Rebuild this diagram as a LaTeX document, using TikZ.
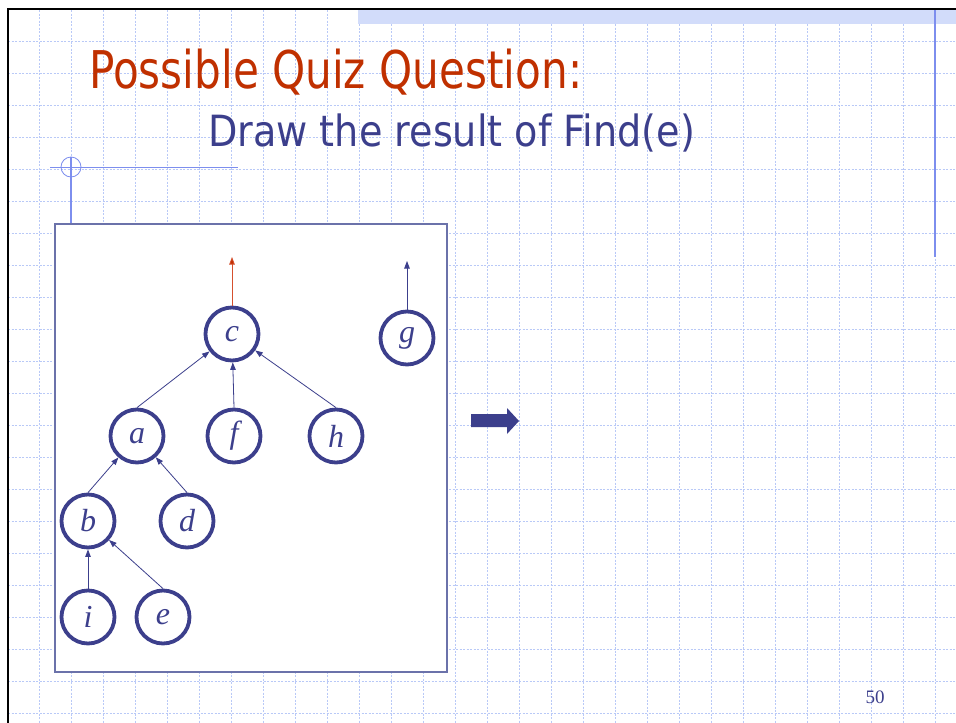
\documentclass[tikz,border=0pt]{standalone}
\usepackage{fontspec}
\setmainfont{Liberation Serif}
\newfontfamily\slidefont{DejaVu Sans}
\usetikzlibrary{arrows.meta, positioning}
\definecolor{navy}{HTML}{3C3F8C}
\definecolor{quizred}{HTML}{C03000}
\definecolor{rootred}{HTML}{D5502E}
\definecolor{gridblue}{HTML}{B9C9F7}
\definecolor{bandblue}{HTML}{D2DCFA}
\definecolor{ruleblue}{HTML}{7D8EEE}
\definecolor{boxgray}{HTML}{6B72AA}
\tikzset{
  tnode/.style={circle, draw=navy, line width=3.8pt, minimum size=53pt,
                inner sep=0pt, text=navy,
                font=\fontsize{32}{32}\selectfont\itshape},
  arrow/.style={-{Triangle[length=7.5pt,width=5.5pt]}, line width=0.8pt, draw=navy},
  rootarrow/.style={-{Triangle[length=7.5pt,width=5.5pt,fill=quizred]},
                line width=0.8pt, draw=rootred},
  gridline/.style={draw=gridblue, line width=1pt, dash pattern=on 2pt off 1.5pt},
}

\begin{document}
\begin{tikzpicture}[x=1pt, y=-1pt]
  \useasboundingbox (0,0) rectangle (956,723);
  \fill[white] (0,0) rectangle (956,723);

  % slide grid and frame
  \foreach \y in {41,73,...,713} \draw[gridline] (8,\y) -- (956,\y);
  \foreach \x in {39,71,...,935} \draw[gridline] (\x,10) -- (\x,723);
  \fill[bandblue] (358,10) rectangle (956,24);
  \draw[black, line width=2.5pt] (8,723) -- (8,9) -- (956,9);
  \draw[ruleblue, line width=1.5pt] (935,10) -- (935,257);

  % corner mark
  \draw[ruleblue, line width=0.8pt] (50,167) -- (238,167);
  \draw[ruleblue, line width=0.8pt] (71,167) circle [radius=10pt];
  \draw[ruleblue, line width=1.5pt] (71,157) -- (71,224);

  % titles
  \node [anchor=base west, inner sep=0pt, text=quizred,
         font=\slidefont\fontsize{52}{52}\selectfont] (title) at (89,88)
        {\resizebox{493pt}{\height}{Possible Quiz Question:}};
  \node [anchor=base west, inner sep=0pt, text=navy,
         font=\slidefont\fontsize{43}{43}\selectfont] (subtitle) at (208,146)
        {\resizebox{487pt}{\height}{Draw the result of Find(e)}};

  % the forest
  \draw[boxgray, fill=white, line width=1.2pt] (55,224) rectangle (447,672);

  \node [tnode] (c) at (232,334) {c};
  \node [tnode] (g) at (407,338) {g};
  \node [tnode] (a) at (137,436) {a};
  \node [tnode] (f) at (234,436) {f};
  \node [tnode] (h) at (336,436) {h};
  \node [tnode] (b) at (88,521) {b};
  \node [tnode] (d) at (187,521) {d};
  \node [tnode] (i) at (88,617) {i};
  \node [tnode] (e) at (163,617) {e};
  \coordinate (ctop) at (232,257);
  \coordinate (gtop) at (407,261);

  \draw [rootarrow] (c) -- (ctop);
  \draw [arrow] (g) -- (gtop);
  \draw [arrow] (a.north) -- (c);
  \draw [arrow] (f.north) -- (c);
  \draw [arrow] (h.north) -- (c);
  \draw [arrow] (b.north) -- (a);
  \draw [arrow] (d.north) -- (a);
  \draw [arrow] (i.north) -- (b);
  \draw [arrow] (e.north) -- (b);

  % fat arrow
  \fill[navy] (471,414) -- (507,414) -- (507,408) -- (519,421)
              -- (507,434) -- (507,427) -- (471,427) -- cycle;

  \node [anchor=base, inner sep=0pt, text=navy,
         font=\fontsize{19}{19}\selectfont] (page) at (875,703) {50};
\end{tikzpicture}
\end{document}
